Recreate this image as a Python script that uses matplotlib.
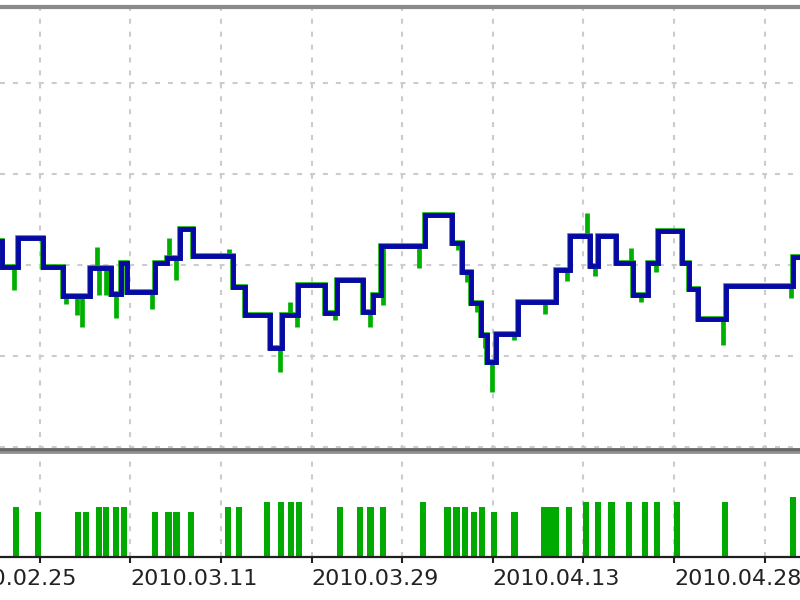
import numpy as np
import matplotlib
matplotlib.use("Agg")
import matplotlib.pyplot as plt
from matplotlib.transforms import blended_transform_factory

# balance curve (steps): edges in trade-index units, value between edges
bal_edges = [-5.0, -4.2, -2.4, 0.3, 2.5, 5.5, 7.9, 9.0, 9.6, 12.7, 14.0, 15.5, 16.9,
             21.3, 22.6, 25.4, 26.7, 28.5, 31.5, 32.8, 35.7, 36.8, 37.7, 42.5, 45.5,
             46.6, 47.6, 48.7, 49.4, 50.4, 52.8, 57.0, 58.5, 60.7, 61.6, 63.6, 65.5,
             67.1, 68.2, 70.9, 71.7, 72.6, 75.7, 83.1, 86.0]
bal_values = [10026, 9998, 10030, 9998, 9966, 9997, 9968, 10002, 9970, 10002, 10008,
              10040, 10010, 9976, 9945, 9909, 9945, 9978, 9947, 9984, 9948, 9967,
              10021, 10055, 10024, 9992, 9958, 9923, 9893, 9924, 9959, 9995, 10032,
              9999, 10032, 10002, 9967, 10002, 10037, 10002, 9974, 9941, 9977, 10009]

# equity excursions away from the balance
spike_x = [-2.8, 2.9, 4.1, 4.7, 6.3, 6.5, 7.3, 8.4, 12.4, 14.3, 15.0, 20.9, 26.5,
           27.6, 28.4, 32.6, 36.4, 37.9, 41.9, 46.1, 47.2, 48.2, 49.1, 49.9, 52.3,
           55.7, 58.2, 60.4, 61.3, 65.2, 66.4, 68.0, 75.4, 82.9]
spike_y = [9973, 9957, 9945, 9932, 10020, 9967, 9967, 9942, 9952, 10030, 9984, 10018,
           9882, 9959, 9932, 9940, 9932, 9956, 9997, 10016, 9981, 9948, 9909, 9860,
           9918, 9946, 9982, 10057, 9988, 10019, 9959, 9992, 9912, 9964]

# lot sizes per trade
lot_x = [-2.6, -0.2, 4.2, 5.1, 6.5, 7.3, 8.4, 9.3, 12.7, 14.2, 15.1, 16.7, 20.8, 22.0,
         25.1, 26.6, 27.7, 28.6, 33.1, 35.3, 36.5, 37.9, 42.3, 45.0, 46.0, 46.9, 47.9,
         48.8, 50.1, 52.4, 55.7, 56.4, 57.0, 58.4, 60.3, 61.6, 63.1, 65.0, 66.8, 68.1,
         70.3, 75.6, 83.1]
lot_size = [0.10, 0.09, 0.09, 0.09, 0.10, 0.10, 0.10, 0.10, 0.09, 0.09, 0.09, 0.09,
            0.10, 0.10, 0.11, 0.11, 0.11, 0.11, 0.10, 0.10, 0.10, 0.10, 0.11, 0.10,
            0.10, 0.10, 0.09, 0.10, 0.09, 0.09, 0.10, 0.10, 0.10, 0.10, 0.11, 0.11,
            0.11, 0.11, 0.11, 0.11, 0.11, 0.11, 0.12]

tick_pos = [0, 10, 20, 30, 40, 50, 60, 70, 80]
date_pos = [-10, 10, 30, 50, 70]
date_labels = ['2010.02.25', '2010.03.11', '2010.03.29', '2010.04.13', '2010.04.28']

blue = '#0808a8'
green = '#00b000'
gridc = '#cccccc'
dash = (0, (2.4, 3.8))

fig = plt.figure(figsize=(8, 6), dpi=100)
ax = fig.add_axes([0, 0.25, 1, 0.7383])
ax2 = fig.add_axes([0, 0.0717, 1, 0.175], sharex=ax)

xlim = (-4.4, 83.9)

# top panel
base = [bal_values[np.searchsorted(bal_edges, s, side='right') - 1] for s in spike_x]
ax.vlines(spike_x, base, spike_y, color=green, lw=3.4, zorder=2)
ax.stairs(bal_values, bal_edges, color=green, lw=4, baseline=None, zorder=2)
ax.stairs(bal_values, bal_edges, color=blue, lw=3.5, baseline=None, zorder=3)
ax.set_xlim(*xlim)
ax.set_ylim(9796.7, 10283.5)
ax.set_yticks([9800, 9900, 10000, 10100, 10200])
ax.set_xticks(tick_pos)
ax.grid(True, color=gridc, lw=1.5, linestyle=dash)
ax.tick_params(left=False, labelleft=False, bottom=False, labelbottom=False)
for s in ['left', 'right']:
    ax.spines[s].set_visible(False)
ax.spines['top'].set_color('#8a8a8a')
ax.spines['top'].set_linewidth(3)
ax.spines['bottom'].set_color('#686868')
ax.spines['bottom'].set_linewidth(3.5)

# bottom panel: lots
ax2.bar(lot_x, lot_size, width=0.7, color='#00aa00', zorder=2)
ax2.set_ylim(0, 0.21)
ax2.set_xlim(*xlim)
ax2.set_xticks(tick_pos)
ax2.xaxis.grid(True, color=gridc, lw=1.5, linestyle=dash)
ax2.tick_params(left=False, labelleft=False, labelbottom=False,
                direction='out', length=4, width=1.5, color='#202020')
for s in ['left', 'right']:
    ax2.spines[s].set_visible(False)
ax2.spines['top'].set_color('#909090')
ax2.spines['top'].set_linewidth(2)
ax2.spines['bottom'].set_color('#202020')
ax2.spines['bottom'].set_linewidth(1.6)

trans = blended_transform_factory(ax2.transData, fig.transFigure)
for p, lab in zip(date_pos, date_labels):
    ax2.text(p, 0.052, lab, transform=trans, ha='left', va='top',
             fontsize=16, color='#222222', clip_on=False)

fig.savefig('out.png', dpi=100)
